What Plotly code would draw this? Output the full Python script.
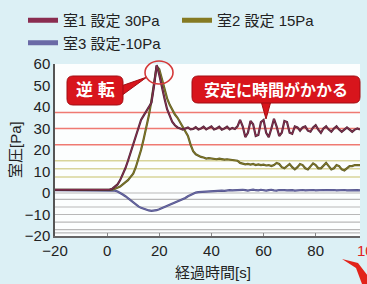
import plotly.graph_objects as go

# ---------------- data ----------------
time_s = [-20, -15, -10, -5,
          0, 1, 2, 3, 4, 5, 6, 7, 8, 9,
          10, 11, 12, 13, 14, 15, 16, 17, 18, 19,
          20, 21, 22, 23, 24, 25, 26, 27, 28, 29,
          30, 31, 32, 33, 34, 35, 36, 37, 38, 39,
          40, 41, 42, 43, 44, 45, 46, 47, 48, 49,
          50, 51, 52, 53, 54, 55, 56, 57, 58, 59,
          60, 61, 62, 63, 64, 65, 66, 67, 68, 69,
          70, 71, 72, 73, 74, 75, 76, 77, 78, 79,
          80, 81, 82, 83, 84, 85, 86, 87, 88, 89,
          90, 91, 92, 93, 94, 95, 96, 97]

room1 = [1.5, 1.5, 1.5, 1.5,
         1.5, 1.6, 2.0, 2.8, 4.0, 6.0, 8.5, 11.5, 15, 19,
         23, 27, 31, 34, 36, 38, 39.5, 42, 50, 59.5,
         55, 49, 44, 39, 35.5, 33, 31.5, 30.5, 30, 29.5,
         30, 30.5, 29.6, 29.8, 30.6, 29.5, 30, 30.8, 29.6, 30.2,
         31, 29.6, 30, 30.8, 29.5, 30, 30.8, 29.6, 30.3, 29.8,
         31, 34, 31, 26, 28, 33.5, 32, 26.5, 27, 33,
         34, 28, 26, 30, 34.5, 31, 26.5, 28, 33.5, 33,
         28, 27.5, 31, 30.5, 29, 30.5, 31, 29, 28.5, 30.5,
         31.5, 29.5, 28, 30, 31, 29.5, 28.5, 30, 31, 29.5,
         28.5, 29.5, 30.5, 29.5, 28.5, 29.5, 30, 29.5]

room2 = [1.5, 1.5, 1.5, 1.5,
         1.5, 1.5, 1.6, 2, 2.5, 3, 4, 5, 6, 7.5,
         9, 12, 15.5, 20, 25, 30, 36, 43, 51, 59,
         57.5, 53, 48, 44, 41, 38.5, 36.5, 35, 33, 31,
         29, 26.5, 22.5, 19.5, 18, 17.2, 16.8, 16.5, 16, 16.2,
         16, 16, 15.7, 16, 15.8, 15.5, 15.7, 15.5, 15.5, 15.2,
         15, 14, 13.5, 13.3, 13.5, 13.2, 13.5, 13, 13.3, 13,
         13.2, 12.8, 13, 12.5, 13, 14, 13.5, 12, 11.5, 12.5,
         13.5, 12, 11, 12, 13.5, 13, 11.5, 11, 12.5, 13.8,
         13, 11.5, 11.5, 13, 14, 12.5, 11, 11.5, 13, 12.5,
         11, 10.5, 11.5, 12.5, 12.5, 13, 13, 13]

room3 = [1.3, 1.3, 1.3, 1.3,
         1.3, 1.3, 1.3, 1.1, 0.7, 0.1, -0.7, -1.5, -2.5, -3.5,
         -4.5, -5.4, -6.2, -6.9, -7.4, -7.8, -8.1, -8.3, -8.3, -8.0,
         -7.6, -7.1, -6.6, -6.0, -5.5, -5.0, -4.5, -4.0, -3.5, -3.0,
         -2.3, -1.5, -0.8, -0.2, 0.2, 0.4, 0.5, 0.6, 0.7, 0.7,
         0.8, 0.9, 0.9, 1.0, 1.1, 1.0, 1.2, 1.3, 1.2, 1.3,
         1.4, 1.2, 1.5, 1.3, 1.1, 1.4, 1.6, 1.3, 1.2, 1.5,
         1.3, 1.1, 1.3, 1.5, 1.2, 1.1, 1.4, 1.5, 1.3, 1.2,
         1.4, 1.3, 1.1, 1.3, 1.5, 1.4, 1.2, 1.3, 1.5, 1.4,
         1.2, 1.3, 1.5, 1.4, 1.3, 1.4, 1.6, 1.4, 1.2, 1.3,
         1.5, 1.4, 1.2, 1.3, 1.4, 1.5, 1.3, 1.2]

series_names = ["室1 設定 30Pa", "室2 設定 15Pa", "室3 設定-10Pa"]
x_ticks = [-20, 0, 20, 40, 60, 80]
y_ticks = [-20, -10, 0, 10, 20, 30, 40, 50, 60]

# reference bands drawn as coloured horizontal rules
red_levels = [37.5, 30, 22.5]
olive_levels = [15, 11.25, 7.5]
gray_levels = [0, -3, -6.5, -10, -13.5, -17, -18.5]

assert len(room1) == len(time_s) == len(room2) == len(room3)

# ---------------- layout helpers ----------------
W, H = 367, 284
L, R, T, B = 55, 7, 64, 48
PW, PH = W - L - R, H - T - B


def px(x):
    return (x - L) / PW


def py(y):
    return (H - B - y) / PH


def rrect(x0, y0, x1, y1, r):
    return (f"M {px(x0+r)},{py(y0)} L {px(x1-r)},{py(y0)} "
            f"Q {px(x1)},{py(y0)} {px(x1)},{py(y0+r)} L {px(x1)},{py(y1-r)} "
            f"Q {px(x1)},{py(y1)} {px(x1-r)},{py(y1)} L {px(x0+r)},{py(y1)} "
            f"Q {px(x0)},{py(y1)} {px(x0)},{py(y1-r)} L {px(x0)},{py(y0+r)} "
            f"Q {px(x0)},{py(y0)} {px(x0+r)},{py(y0)} Z")


def tri(pts):
    s = "M " + " L ".join(f"{px(a)},{py(b)}" for a, b in pts) + " Z"
    return s


FONT = "Liberation Sans, Noto Sans CJK JP, sans-serif"
c1, c2, c3 = "#8a2d50", "#857a22", "#6a6aa6"

fig = go.Figure()

# data lines: dark under-stroke + coloured core
for ys, col, dark in [(room3, c3, "#55558a"), (room2, c2, "#5e5c2c"), (room1, c1, "#4f2838")]:
    fig.add_trace(go.Scatter(x=time_s, y=ys, mode="lines", showlegend=False,
                             line=dict(color=dark, width=2.2), hoverinfo="skip"))
    fig.add_trace(go.Scatter(x=time_s, y=ys, mode="lines", showlegend=False,
                             line=dict(color=col, width=1.0)))

# legend entries
for name, col in zip(series_names, [c1, c2, c3]):
    fig.add_trace(go.Scatter(x=[None], y=[None], mode="lines", name=name,
                             line=dict(color=col, width=5)))

shapes = []
for v in red_levels:
    shapes.append(dict(type="line", xref="paper", x0=0, x1=1, yref="y", y0=v, y1=v,
                       line=dict(color="#ef7a72", width=1.5), layer="below"))
for v in olive_levels:
    shapes.append(dict(type="line", xref="paper", x0=0, x1=1, yref="y", y0=v, y1=v,
                       line=dict(color="#d8d49a", width=1.5), layer="below"))
for v in gray_levels:
    shapes.append(dict(type="line", xref="paper", x0=0, x1=1, yref="y", y0=v, y1=v,
                       line=dict(color="#b8b8b8", width=1.2), layer="below"))

# callout boxes
box_fill, box_line = "#d8151c", "#a10d12"
shapes.append(dict(type="path", xref="paper", yref="paper", path=tri([(121, 86), (121, 96), (147, 77)]),
                   fillcolor=box_fill, line=dict(color=box_line, width=1)))
shapes.append(dict(type="path", xref="paper", yref="paper", path=rrect(67, 76, 123, 105, 6),
                   fillcolor=box_fill, line=dict(color=box_line, width=1)))
shapes.append(dict(type="path", xref="paper", yref="paper", path=tri([(261, 101), (271, 101), (266, 119)]),
                   fillcolor=box_fill, line=dict(color=box_line, width=1)))
shapes.append(dict(type="path", xref="paper", yref="paper", path=rrect(192, 76, 360, 103, 6),
                   fillcolor=box_fill, line=dict(color=box_line, width=1)))
shapes.append(dict(type="circle", xref="paper", yref="paper",
                   x0=px(145), x1=px(173), y0=py(84), y1=py(61),
                   line=dict(color="#d43a3a", width=1.6)))
# red swoosh at bottom right
shapes.append(dict(type="path", xref="paper", yref="paper",
                   path=tri([(342, 259), (358, 263), (368, 276), (368, 284), (362, 284), (356, 268)]),
                   fillcolor="#e2231a", line=dict(width=0)))


def note(text, x, y, size, color, **kw):
    return dict(text=text, xref="paper", yref="paper", x=px(x), y=py(y),
                xanchor="center", yanchor="middle", showarrow=False,
                font=dict(family=FONT, size=size, color=color), **kw)


annotations = [
    note("<b>逆 転</b>", 95, 90.5, 17, "white"),
    note("<b>安定に時間がかかる</b>", 276, 89.5, 16, "white"),
    note("室圧[Pa]", 15, 150, 15, "#222", textangle=-90),
    note("経過時間[s]", 213, 272, 15, "#222"),
    note("100", 369, 250, 15, "#e02020"),
]

fig.update_layout(
    width=W, height=H,
    margin=dict(l=L, r=R, t=T, b=B, autoexpand=False),
    paper_bgcolor="#dcf0f5",
    plot_bgcolor="#fcfefe",
    font=dict(family=FONT, size=15, color="#222"),
    shapes=shapes,
    annotations=annotations,
    showlegend=True,
    legend=dict(orientation="h", x=px(23), y=py(4), xanchor="left", yanchor="top",
                entrywidth=109, itemwidth=30, bgcolor="rgba(0,0,0,0)",
                font=dict(family=FONT, size=15, color="#222"), tracegroupgap=0),
    xaxis=dict(range=[-20, 97], tickvals=x_ticks, showgrid=False, zeroline=False,
               showline=True, linecolor="#666", linewidth=1.5, ticks="inside",
               ticklen=3, tickcolor="#888", tickfont=dict(size=15, color="#222")),
    yaxis=dict(range=[-20, 60], tickvals=y_ticks, showgrid=False, zeroline=False,
               showline=True, linecolor="#555", linewidth=1.5, ticks="",
               tickfont=dict(size=15, color="#222")),
)

fig.write_html("out.html", config={"displayModeBar": False},
               post_script="document.body.style.margin='0';")
